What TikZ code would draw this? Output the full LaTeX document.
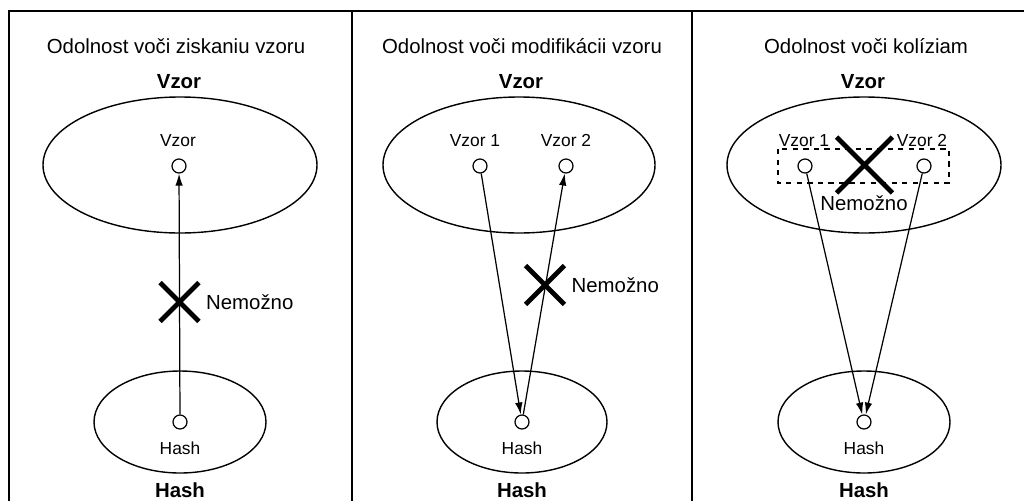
\documentclass[tikz,border=0pt]{standalone}
\usepackage{fontspec}
\setmainfont{Liberation Sans}
\usetikzlibrary{arrows.meta,shapes.misc,positioning}
\tikzset{
  frame/.style={line width=1.1pt},
  oval/.style={line width=0.8pt},
  dot/.style={circle,draw,line width=0.7pt,fill=white,minimum size=0.28cm,inner sep=0pt},
  arr/.style={line width=0.7pt,-{Latex[length=0.24cm,width=0.15cm]}},
  nope/.style={cross out,draw,line width=2.8pt,inner sep=0pt,minimum size=0.68cm},
  ttl/.style={font=\fontsize{11.6}{13}\selectfont},
  hdr/.style={font=\fontsize{11.6}{13}\selectfont\bfseries},
  lbl/.style={font=\fontsize{9.9}{11}\selectfont}
}
\begin{document}
\begin{tikzpicture}[x=0.02cm,y=-0.02cm]
\useasboundingbox(0,0)rectangle(1024,501);

%frame
\draw[frame](9,501)--(9,11)--(1024,11);
\draw[frame](352,11)--(352,501);
\draw[frame](692,11)--(692,501);

%panel 1
\node[ttl]at(176,46){Odolnost voči ziskaniu vzoru};
\node[hdr]at(179,82){Vzor};
\draw[oval](180,165)ellipse[x radius=137,y radius=68];
\node[lbl]at(178,141){Vzor};
\node[dot](v)at(179,166){};
\draw[oval](180,422)ellipse[x radius=86,y radius=51];
\node[dot](h)at(180,422){};
\node[lbl]at(180,448){Hash};
\node[hdr]at(180,490){Hash};
\draw[arr](h)--(v);
\node[nope](xa)at(179.5,302){};
\node[ttl,right=0.02cm of xa]{Nemožno};

%panel 2
\node[ttl]at(522,46){Odolnost voči modifikácii vzoru};
\node[hdr]at(521,82){Vzor};
\draw[oval](519,165)ellipse[x radius=136,y radius=68];
\node[lbl]at(475,141){Vzor 1};
\node[lbl]at(566,141){Vzor 2};
\node[dot](va)at(480,166){};
\node[dot](vb)at(566,166){};
\draw[oval](522,422)ellipse[x radius=85,y radius=51];
\node[dot](hb)at(522,422){};
\node[lbl]at(522,448){Hash};
\node[hdr]at(522,490){Hash};
\draw[arr](va)--(hb);
\draw[arr](hb)--(vb);
\node[nope](xb)at(545,285){};
\node[ttl,right=0.02cm of xb]{Nemožno};

%panel 3
\node[ttl]at(866,46){Odolnost voči kolíziam};
\node[hdr]at(863,82){Vzor};
\draw[oval](864,165)ellipse[x radius=137,y radius=68];
\draw[oval,dashed](778,149)rectangle(949,183);
\node[lbl]at(804,141){Vzor 1};
\node[lbl]at(922,141){Vzor 2};
\node[dot](vc)at(805,166){};
\node[dot](vd)at(924,166){};
\node[nope,minimum size=1.02cm](xc)at(864.5,165){};
\node[ttl]at(864,203){Nemožno};
\draw[oval](864,422)ellipse[x radius=86,y radius=51];
\node[dot](hc)at(864,422){};
\node[lbl]at(864,448){Hash};
\node[hdr]at(864,490){Hash};
\draw[arr](vc)--(hc);
\draw[arr](vd)--(hc);

\end{tikzpicture}
\end{document}
